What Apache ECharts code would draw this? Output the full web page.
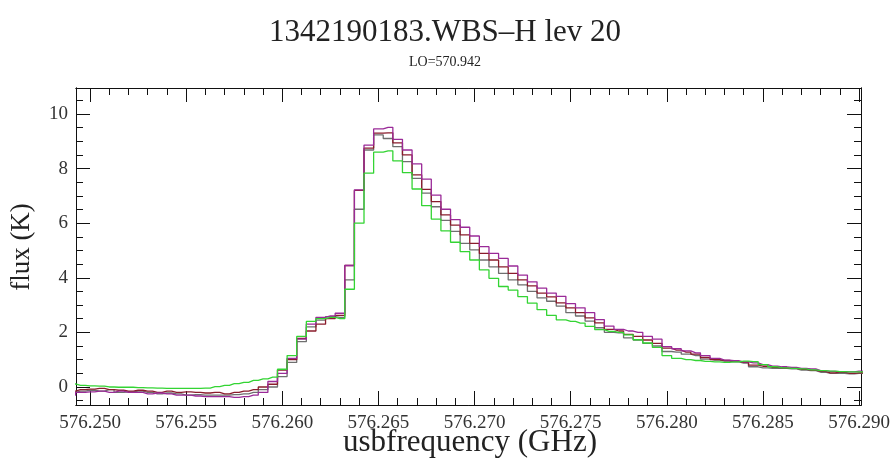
<!DOCTYPE html>
<html><head><meta charset="utf-8">
<script src="https://cdn.jsdelivr.net/npm/echarts@6/dist/echarts.min.js"></script>
<style>html,body{margin:0;padding:0;background:#fff}#c{width:893px;height:465px}</style>
</head><body><div id="c"></div>
<script>
// Bin centre frequencies (GHz)
const freq = [576.2490,576.2495,576.2500,576.2505,576.2510,576.2515,576.2520,576.2525,576.2530,576.2535,
576.2540,576.2545,576.2550,576.2555,576.2560,576.2565,576.2570,576.2575,576.2580,576.2585,
576.2590,576.2595,576.2600,576.2605,576.2610,576.2615,576.2620,576.2625,576.2630,576.2635,
576.2640,576.2645,576.2650,576.2655,576.2660,576.2665,576.2670,576.2675,576.2680,576.2685,
576.2690,576.2695,576.2700,576.2705,576.2710,576.2715,576.2720,576.2725,576.2730,576.2735,
576.2740,576.2745,576.2750,576.2755,576.2760,576.2765,576.2770,576.2775,576.2780,576.2785,
576.2790,576.2795,576.2800,576.2805,576.2810,576.2815,576.2820,576.2825,576.2830,576.2835,
576.2840,576.2845,576.2850,576.2855,576.2860,576.2865,576.2870,576.2875,576.2880,576.2885,
576.2890,576.2895,576.2900,576.2905];

// flux (K) per series
const purple = [-0.30,-0.20,-0.18,-0.15,-0.20,-0.15,-0.20,-0.20,-0.25,-0.22,
-0.25,-0.30,-0.30,-0.33,-0.35,-0.35,-0.35,-0.38,-0.35,-0.30,
-0.20,0.20,0.50,1.05,1.75,2.30,2.55,2.60,2.70,4.45,
7.22,8.86,9.45,9.51,9.07,8.68,8.17,7.61,7.03,6.51,
6.13,5.85,5.53,5.14,4.89,4.71,4.43,4.10,3.85,3.62,
3.44,3.32,3.05,2.90,2.72,2.47,2.23,2.11,2.05,2.00,
1.85,1.75,1.48,1.40,1.32,1.25,1.15,1.05,0.98,0.96,
0.92,0.88,0.82,0.76,0.74,0.72,0.68,0.66,0.60,0.57,
0.56,0.55,0.58,0.58];
const maroon = [-0.15,-0.10,-0.08,-0.05,-0.10,-0.12,-0.15,-0.12,-0.15,-0.20,
-0.15,-0.20,-0.18,-0.20,-0.22,-0.20,-0.25,-0.20,-0.15,-0.10,
0.00,0.10,0.62,1.00,1.78,2.05,2.30,2.50,2.62,4.45,
7.20,8.75,9.30,9.31,8.94,8.50,7.77,7.24,6.79,6.30,
5.93,5.57,5.26,4.89,4.65,4.40,4.16,3.92,3.70,3.44,
3.30,3.08,2.90,2.72,2.53,2.35,2.11,2.05,1.93,1.85,
1.72,1.60,1.42,1.35,1.28,1.20,1.08,1.00,0.97,0.95,
0.90,0.80,0.76,0.72,0.70,0.68,0.65,0.62,0.57,0.52,
0.54,0.50,0.52,0.52];
const grey = [-0.20,-0.15,-0.12,-0.15,-0.10,-0.20,-0.18,-0.15,-0.20,-0.25,
-0.22,-0.25,-0.30,-0.28,-0.30,-0.30,-0.30,-0.28,-0.25,-0.20,
-0.10,0.00,0.38,0.90,1.66,2.20,2.45,2.58,2.55,3.92,
6.51,8.68,9.23,9.10,8.80,8.25,7.64,7.10,6.60,6.10,
5.70,5.26,5.02,4.65,4.40,4.16,3.92,3.74,3.50,3.26,
3.14,2.96,2.72,2.60,2.41,2.17,2.00,1.98,1.80,1.72,
1.60,1.50,1.30,1.28,1.20,1.15,1.02,0.98,0.95,0.92,
0.87,0.74,0.70,0.68,0.68,0.66,0.62,0.60,0.54,0.50,
0.50,0.48,0.50,0.50];
const green = [0.11,0.06,0.04,0.03,0.00,-0.01,-0.01,-0.02,-0.03,-0.04,
-0.05,-0.05,-0.05,-0.05,-0.04,0.01,0.06,0.12,0.17,0.24,
0.30,0.36,0.65,1.15,1.85,2.40,2.50,2.55,2.50,3.58,
6.00,7.83,8.60,8.65,8.28,7.85,7.25,6.64,6.15,5.72,
5.30,4.96,4.65,4.29,3.98,3.68,3.55,3.31,3.07,2.83,
2.62,2.46,2.40,2.34,2.22,2.10,2.04,2.00,1.91,1.73,
1.61,1.45,1.15,1.05,1.00,0.97,0.94,0.92,0.90,0.92,
0.95,0.93,0.82,0.74,0.70,0.68,0.66,0.63,0.60,0.58,
0.56,0.55,0.55,0.55];

// Tick values
const xMajor = [576.250,576.255,576.260,576.265,576.270,576.275,576.280,576.285,576.290];
const xMinor = [576.251,576.252,576.253,576.254,576.256,576.257,576.258,576.259,
576.261,576.262,576.263,576.264,576.266,576.267,576.268,576.269,
576.271,576.272,576.273,576.274,576.276,576.277,576.278,576.279,
576.281,576.282,576.283,576.284,576.286,576.287,576.288,576.289];
const yMajor = [0,2,4,6,8,10];
const yMinor = [-0.5,0.5,1,1.5,2.5,3,3.5,4.5,5,5.5,6.5,7,7.5,8.5,9,9.5,10.5];

const X_MIN = 576.24927, X_MAX = 576.2901, Y_MIN = -0.66, Y_MAX = 10.95;
const FONT = '"Liberation Serif", "DejaVu Serif", serif';

function pairs(vals){ return freq.map((f,i)=>[f, vals[i]]); }

function xAx(pos, vals, len, labels){
  return {type:'value', position:pos, min:X_MIN, max:X_MAX, gridIndex:0,
    axisLine:{show:true, onZero:false, lineStyle:{color:'#111', width:1}},
    axisTick:{show:true, inside:true, length:len, customValues:vals, lineStyle:{color:'#111', width:1}},
    axisLabel:labels ? {show:true, customValues:vals, margin:9, color:'#333', fontFamily:FONT, fontSize:19,
      formatter:v=>Number(v).toFixed(3)} : {show:false},
    splitLine:{show:false}};
}
function yAx(pos, vals, len, labels){
  return {type:'value', position:pos, min:Y_MIN, max:Y_MAX, gridIndex:0,
    axisLine:{show:true, onZero:false, lineStyle:{color:'#111', width:1}},
    axisTick:{show:true, inside:true, length:len, customValues:vals, lineStyle:{color:'#111', width:1}},
    axisLabel:labels ? {show:true, customValues:vals, margin:8, color:'#333', fontFamily:FONT, fontSize:19} : {show:false},
    splitLine:{show:false}};
}
function ser(name, vals, color){
  return {name, type:'line', step:'middle', data:pairs(vals), showSymbol:false, symbol:'none',
    xAxisIndex:0, yAxisIndex:0, clip:true, lineStyle:{color, width:1.3}, itemStyle:{color}, animation:false};
}

const chart = echarts.init(document.getElementById('c'), null, {renderer:'canvas'});
chart.setOption({
  backgroundColor:'#fff',
  animation:false,
  title:[
    {text:'1342190183.WBS\u2013H lev 20', left:440, top:12, textAlign:'center',
     textStyle:{fontFamily:FONT, fontSize:31, fontWeight:'normal', color:'#222'}},
    {text:'LO=570.942', left:440, top:50, textAlign:'center',
     textStyle:{fontFamily:FONT, fontSize:14, fontWeight:'normal', color:'#222'}}
  ],
  grid:{left:76, right:32, top:88, bottom:60, containLabel:false},
  xAxis:[ xAx('bottom', xMajor, 14, true), xAx('bottom', xMinor, 7, false),
          xAx('top', xMajor, 14, false), xAx('top', xMinor, 7, false) ],
  yAxis:[ yAx('left', yMajor, 14, true), yAx('left', yMinor, 7, false),
          yAx('right', yMajor, 14, false), yAx('right', yMinor, 7, false) ],
  graphic:[
    {type:'text', x:470, y:427, style:{text:'usbfrequency (GHz)', font:'31px "Liberation Serif", serif', fill:'#222', align:'center', verticalAlign:'top'}},
    {type:'text', x:8, y:247, rotation:Math.PI/2, style:{text:'flux (K)', font:'27px "Liberation Serif", serif', fill:'#222', align:'center', verticalAlign:'top'}}
  ],
  series:[ ser('grey', grey, '#6f6f6f'), ser('maroon', maroon, '#8a1c2c'),
           ser('purple', purple, '#9a2a98'), ser('green', green, '#33d433') ]
});
</script></body></html>
